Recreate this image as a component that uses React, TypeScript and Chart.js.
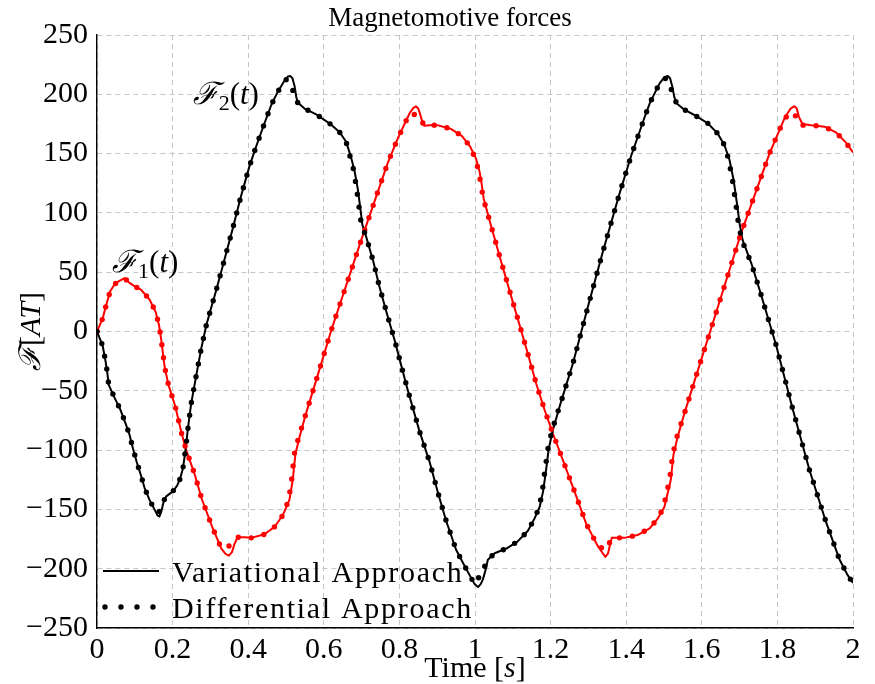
import React, { useEffect, useRef } from "react";
import { Chart, registerables } from "chart.js";

Chart.register(...registerables);

// ---------- data ----------
// F1 (red) – Variational Approach (solid)
const f1VarT = [0, 0.015, 0.024, 0.035, 0.047, 0.058, 0.073, 0.086, 0.1, 0.117, 0.139, 0.155, 0.164, 0.17, 0.179, 0.189, 0.207, 0.224, 0.236, 0.258, 0.277, 0.305, 0.329, 0.34, 0.349, 0.357, 0.364, 0.372, 0.39, 0.408, 0.443, 0.47, 0.492, 0.509, 0.518, 0.525, 0.536, 0.553, 0.58, 0.62, 0.699, 0.769, 0.796, 0.827, 0.837, 0.844, 0.85, 0.856, 0.862, 0.866, 0.88, 0.9, 0.935, 0.965, 0.987, 1.003, 1.012, 1.018, 1.023, 1.04, 1.07, 1.1, 1.122, 1.14, 1.162, 1.184, 1.206, 1.232, 1.268, 1.294, 1.325, 1.338, 1.345, 1.352, 1.357, 1.362, 1.395, 1.43, 1.462, 1.484, 1.501, 1.51, 1.518, 1.525, 1.536, 1.554, 1.576, 1.629, 1.704, 1.779, 1.819, 1.835, 1.845, 1.851, 1.857, 1.866, 1.889, 1.925, 1.956, 1.982, 2.0];
const f1VarV = [0, 11, 22, 34, 40, 42.5, 45, 41, 38, 35, 27, 16.7, 5.5, -7, -30, -45, -63, -86, -100, -120, -141, -165, -183, -187.5, -189, -186, -179, -173.5, -173.5, -174, -171, -164.6, -154.7, -142, -125, -103, -88.7, -69, -41, 1.3, 77, 142, 163, 184, 188.5, 189.8, 188, 182, 175, 173.5, 174, 174, 171, 165, 156, 145.5, 135, 123.5, 112, 92, 58, 25, 1, -19, -44, -66, -86, -108, -139, -162, -181, -187, -190, -187, -180, -174, -174, -171.6, -166, -157.5, -148, -136, -125, -104, -89, -69, -46.5, 7, 83, 150, 180, 188, 190, 188, 181, 175, 174, 172.7, 167.6, 159, 151];

// F1 (red) – Differential Approach (dotted)
const f1DiffT = [0, 0.015, 0.024, 0.035, 0.047, 0.058, 0.073, 0.086, 0.1, 0.117, 0.139, 0.155, 0.164, 0.17, 0.179, 0.189, 0.207, 0.224, 0.236, 0.258, 0.277, 0.305, 0.329, 0.349, 0.372, 0.39, 0.408, 0.443, 0.47, 0.492, 0.507, 0.515, 0.522, 0.534, 0.553, 0.58, 0.62, 0.699, 0.769, 0.796, 0.827, 0.851, 0.866, 0.88, 0.9, 0.935, 0.965, 0.987, 1.001, 1.01, 1.016, 1.022, 1.04, 1.07, 1.1, 1.122, 1.14, 1.162, 1.184, 1.206, 1.232, 1.268, 1.294, 1.325, 1.347, 1.362, 1.395, 1.43, 1.462, 1.484, 1.499, 1.507, 1.515, 1.523, 1.534, 1.554, 1.576, 1.629, 1.704, 1.779, 1.819, 1.843, 1.858, 1.866, 1.889, 1.925, 1.956, 1.982, 2.0];
const f1DiffV = [0, 11, 22, 34, 40, 42.5, 45, 41, 38, 35, 27, 16.7, 5.5, -7, -30, -45, -63, -86, -100, -120, -141, -165, -183, -181, -173.5, -173.5, -174, -171, -164.6, -154.7, -142, -125, -103, -88.7, -69, -41, 1.3, 77, 142, 163, 184, 182, 173.5, 174, 174, 171, 165, 156, 145.5, 135, 123.5, 112, 92, 58, 25, 1, -19, -44, -66, -86, -108, -139, -162, -181, -184, -174, -174, -171.6, -166, -157.5, -148, -136, -125, -104, -89, -69, -46.5, 7, 83, 150, 180, 185, 175, 174, 174, 172.7, 167.6, 159, 151];

// F2 (black) – Variational Approach (solid)
const f2VarT = [0, 0.015, 0.022, 0.027, 0.031, 0.046, 0.062, 0.075, 0.086, 0.095, 0.105, 0.117, 0.126, 0.139, 0.152, 0.16, 0.165, 0.17, 0.176, 0.183, 0.2, 0.212, 0.22, 0.227, 0.232, 0.236, 0.24, 0.249, 0.262, 0.276, 0.289, 0.302, 0.313, 0.335, 0.36, 0.38, 0.403, 0.421, 0.439, 0.461, 0.478, 0.495, 0.505, 0.511, 0.517, 0.523, 0.527, 0.531, 0.549, 0.58, 0.615, 0.642, 0.659, 0.672, 0.681, 0.69, 0.697, 0.702, 0.712, 0.721, 0.731, 0.747, 0.767, 0.787, 0.82, 0.853, 0.88, 0.902, 0.924, 0.95, 0.968, 0.985, 0.999, 1.008, 1.015, 1.021, 1.028, 1.034, 1.052, 1.083, 1.113, 1.14, 1.157, 1.171, 1.18, 1.188, 1.195, 1.206, 1.226, 1.259, 1.298, 1.338, 1.382, 1.413, 1.448, 1.463, 1.488, 1.5, 1.51, 1.516, 1.522, 1.527, 1.533, 1.554, 1.585, 1.616, 1.642, 1.66, 1.673, 1.684, 1.693, 1.7, 1.708, 1.731, 1.753, 1.797, 1.841, 1.885, 1.929, 1.964, 1.985, 2.0];
const f2VarV = [0, -12, -24, -34, -45, -55.5, -66, -77, -87, -98.5, -110, -122, -132, -142, -150, -155, -156, -152, -144, -139, -135, -130, -124, -116, -105, -95, -83, -61, -38, -14, 5, 20, 32, 58, 88, 113, 139, 156, 172, 191, 202, 211, 215, 215.5, 213.5, 206.5, 198, 193, 188, 183, 175.5, 168, 160, 147, 136, 120, 103, 90, 80, 70, 59, 38, 15, -7, -47, -84, -110, -136, -160, -184, -195, -205, -213, -215.5, -213, -209, -201, -192.5, -187, -183, -177, -168, -158, -148, -135, -117, -99, -83, -61, -27, 20, 67, 116, 148, 180, 193, 209, 214, 215.5, 213.5, 206.5, 198, 192.5, 187, 181.7, 175.5, 167, 157, 145, 128, 108, 91, 77, 57.5, 35, -12, -66, -117, -161, -192, -205, -212];

// F2 (black) – Differential Approach (dotted)
const f2DiffT = [0, 0.015, 0.022, 0.027, 0.031, 0.046, 0.062, 0.075, 0.086, 0.095, 0.105, 0.117, 0.126, 0.139, 0.152, 0.163, 0.176, 0.183, 0.2, 0.212, 0.22, 0.227, 0.232, 0.236, 0.24, 0.249, 0.262, 0.276, 0.289, 0.302, 0.313, 0.335, 0.36, 0.38, 0.403, 0.421, 0.439, 0.461, 0.478, 0.495, 0.501, 0.516, 0.531, 0.549, 0.58, 0.615, 0.642, 0.659, 0.67, 0.679, 0.687, 0.694, 0.699, 0.712, 0.721, 0.731, 0.747, 0.767, 0.787, 0.82, 0.853, 0.88, 0.902, 0.924, 0.95, 0.968, 0.985, 0.999, 1.016, 1.034, 1.052, 1.083, 1.113, 1.14, 1.157, 1.17, 1.178, 1.185, 1.193, 1.204, 1.226, 1.259, 1.298, 1.338, 1.382, 1.413, 1.448, 1.463, 1.488, 1.5, 1.505, 1.52, 1.533, 1.554, 1.585, 1.616, 1.642, 1.66, 1.671, 1.681, 1.69, 1.697, 1.706, 1.731, 1.753, 1.797, 1.841, 1.885, 1.929, 1.964, 1.985, 2.0];
const f2DiffV = [0, -12, -24, -34, -45, -55.5, -66, -77, -87, -98.5, -110, -122, -132, -142, -150, -153, -143, -139, -135, -130, -124, -116, -105, -95, -83, -61, -38, -14, 5, 20, 32, 58, 88, 113, 139, 156, 172, 191, 202, 211, 212.5, 205, 193, 188, 183, 175.5, 168, 160, 147, 136, 120, 103, 91, 80, 70, 59, 38, 15, -7, -47, -84, -110, -136, -160, -184, -195, -205, -213, -204.5, -192.5, -187, -183, -177, -168, -158, -148, -135, -117, -99, -83, -61, -27, 20, 67, 116, 148, 180, 193, 209, 213, 213.5, 203.6, 192.5, 187, 181.7, 175.5, 167, 157, 145, 128, 108, 91, 77, 57.5, 35, -12, -66, -117, -161, -192, -205, -212];

const xTicks = [0, 0.2, 0.4, 0.6, 0.8, 1, 1.2, 1.4, 1.6, 1.8, 2];
const yTicks = [-250, -200, -150, -100, -50, 0, 50, 100, 150, 200, 250];

const TITLE = "Magnetomotive forces";
const LEGEND_LABELS = ["Variational Approach", "Differential Approach"];
const RED = "#ff0000";
const BLACK = "#000000";

// annotation anchors (data coordinates: [t, value])
const F1_LABEL_AT = [0.04, 50];
const F2_LABEL_AT = [0.253, 192];

const FONT = "'Liberation Serif', 'DejaVu Serif', serif";

function toXY(t: number[], v: number[]) {
  return t.map((x, i) => ({ x, y: v[i] }));
}

type Part = { t: string; f: string; dy?: number };

function richWidth(ctx: CanvasRenderingContext2D, parts: Part[]) {
  let w = 0;
  for (const p of parts) {
    ctx.font = p.f;
    w += ctx.measureText(p.t).width;
  }
  return w;
}

function drawRich(ctx: CanvasRenderingContext2D, parts: Part[], x: number, y: number, align: "left" | "center") {
  let cx = align === "center" ? x - richWidth(ctx, parts) / 2 : x;
  ctx.textAlign = "left";
  ctx.textBaseline = "alphabetic";
  for (const p of parts) {
    ctx.font = p.f;
    ctx.fillText(p.t, cx, y + (p.dy || 0));
    cx += ctx.measureText(p.t).width;
  }
}

const overlayPlugin = {
  id: "overlay",
  afterDraw(chart: any) {
    const ctx: CanvasRenderingContext2D = chart.ctx;
    const xs = chart.scales.x;
    const ys = chart.scales.y;
    const area = chart.chartArea;
    ctx.save();
    ctx.fillStyle = "#000";

    // title
    ctx.font = `27px ${FONT}`;
    ctx.textAlign = "center";
    ctx.textBaseline = "alphabetic";
    ctx.fillText(TITLE, (area.left + area.right) / 2 - 25, 26);

    // x-axis title
    drawRich(
      ctx,
      [
        { t: "Time [", f: `30px ${FONT}` },
        { t: "s", f: `italic 30px ${FONT}` },
        { t: "]", f: `30px ${FONT}` },
      ],
      (area.left + area.right) / 2,
      677,
      "center"
    );

    // y-axis title
    ctx.save();
    ctx.translate(40, (area.top + area.bottom) / 2);
    ctx.rotate(-Math.PI / 2);
    drawRich(
      ctx,
      [
        { t: "ℱ", f: `italic 30px ${FONT}` },
        { t: "[", f: `30px ${FONT}` },
        { t: "AT", f: `italic 30px ${FONT}` },
        { t: "]", f: `30px ${FONT}` },
      ],
      0,
      0,
      "center"
    );
    ctx.restore();

    // curve labels
    const lab = (n: string): Part[] => [
      { t: "ℱ", f: `italic 31px ${FONT}` },
      { t: n, f: `22px ${FONT}`, dy: 6 },
      { t: "(", f: `31px ${FONT}` },
      { t: "t", f: `italic 31px ${FONT}` },
      { t: ")", f: `31px ${FONT}` },
    ];
    drawRich(ctx, lab("1"), xs.getPixelForValue(F1_LABEL_AT[0]), ys.getPixelForValue(F1_LABEL_AT[1]), "left");
    drawRich(ctx, lab("2"), xs.getPixelForValue(F2_LABEL_AT[0]), ys.getPixelForValue(F2_LABEL_AT[1]), "left");

    // legend
    const lx0 = area.left + 6;
    const lx1 = area.left + 62;
    const row1 = 571;
    const row2 = 607;
    ctx.strokeStyle = BLACK;
    ctx.lineWidth = 1.8;
    ctx.setLineDash([]);
    ctx.beginPath();
    ctx.moveTo(lx0, row1);
    ctx.lineTo(lx1, row1);
    ctx.stroke();

    ctx.lineWidth = 5.4;
    ctx.lineCap = "round";
    ctx.setLineDash([0, 16]);
    ctx.beginPath();
    ctx.moveTo(lx0 + 2, row2);
    ctx.lineTo(lx1 - 2, row2);
    ctx.stroke();
    ctx.setLineDash([]);

    ctx.font = `30px ${FONT}`;
    (ctx as any).letterSpacing = "1.7px";
    ctx.textAlign = "left";
    ctx.fillText(LEGEND_LABELS[0], area.left + 75, row1 + 11);
    ctx.fillText(LEGEND_LABELS[1], area.left + 75, row2 + 11);
    (ctx as any).letterSpacing = "0px";
    ctx.restore();
  },
};

const fmtX = (v: number) => String(Number(v.toFixed(1)));
const fmtY = (v: number) => (v < 0 ? "\u2212" + Math.abs(v) : String(v));

export default function App() {
  const ref = useRef<HTMLCanvasElement | null>(null);

  useEffect(() => {
    if (!ref.current) return;
    const dotted = {
      borderDash: [0, 13],
      borderCapStyle: "round" as const,
      borderWidth: 5.4,
      pointRadius: 0,
      showLine: true,
      tension: 0,
    };
    const solid = {
      borderWidth: 2,
      pointRadius: 0,
      showLine: true,
      tension: 0,
      borderJoinStyle: "round" as const,
    };
    const chart = new Chart(ref.current, {
      type: "scatter",
      data: {
        datasets: [
          { label: "F2 diff", data: toXY(f2DiffT, f2DiffV), borderColor: BLACK, backgroundColor: BLACK, ...dotted },
          { label: "F1 diff", data: toXY(f1DiffT, f1DiffV), borderColor: RED, backgroundColor: RED, ...dotted },
          { label: "F2 var", data: toXY(f2VarT, f2VarV), borderColor: BLACK, backgroundColor: BLACK, ...solid },
          { label: "F1 var", data: toXY(f1VarT, f1VarV), borderColor: RED, backgroundColor: RED, ...solid },
        ],
      },
      options: {
        animation: false,
        responsive: false,
        maintainAspectRatio: false,
        layout: { padding: { top: 35, right: 22, left: 0, bottom: 0 } },
        plugins: { legend: { display: false }, tooltip: { enabled: false }, title: { display: false } },
        scales: {
          x: {
            type: "linear",
            min: 0,
            max: 2,
            afterBuildTicks: (s: any) => {
              s.ticks = xTicks.map((v) => ({ value: v }));
            },
            afterFit: (s: any) => {
              s.height = 56;
            },
            ticks: {
              callback: (v: any) => fmtX(Number(v)),
              font: { family: FONT, size: 30 },
              color: "#000",
              padding: 4,
              maxRotation: 0,
              autoSkip: false,
            },
            grid: { color: "#c6c6c6", lineWidth: 1, drawTicks: false },
            border: { display: true, color: "#000", width: 1.4, dash: [5, 4] },
          },
          y: {
            type: "linear",
            min: -250,
            max: 250,
            afterBuildTicks: (s: any) => {
              s.ticks = yTicks.map((v) => ({ value: v }));
            },
            afterFit: (s: any) => {
              s.width = 97;
            },
            ticks: {
              callback: (v: any) => fmtY(Number(v)),
              font: { family: FONT, size: 30 },
              color: "#000",
              padding: 9,
              autoSkip: false,
            },
            grid: { color: "#c6c6c6", lineWidth: 1, drawTicks: false },
            border: { display: true, color: "#000", width: 1.4, dash: [5, 4] },
          },
        },
      },
      plugins: [overlayPlugin],
    });
    return () => chart.destroy();
  }, []);

  return (
    <div style={{ position: "fixed", left: 0, top: 0, width: 875, height: 684, background: "#fff" }}>
      <canvas ref={ref} width={875} height={684} style={{ display: "block" }} />
    </div>
  );
}
